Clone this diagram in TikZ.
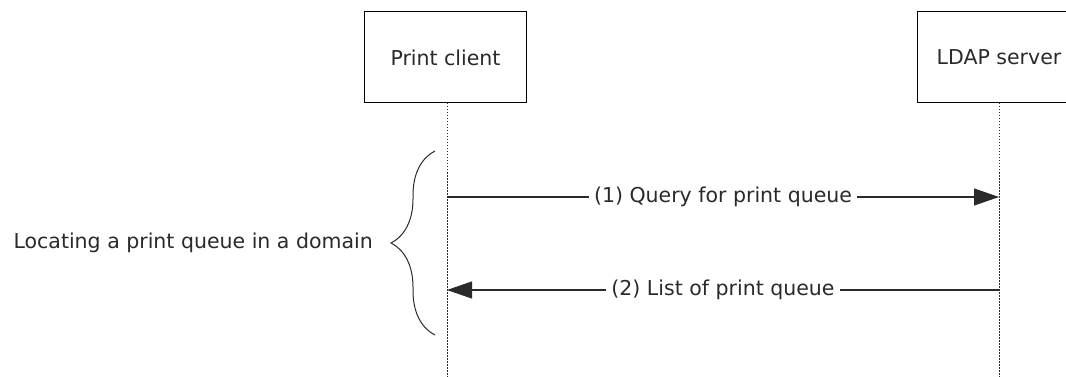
\documentclass[tikz,border=0pt]{standalone}
\usepackage{fontspec}
\setmainfont{DejaVu Sans}
\usetikzlibrary{arrows.meta,decorations.pathreplacing}
\definecolor{ink}{HTML}{2A2A2A}
\tikzset{
  txt/.style={font=\fontsize{20.5}{24}\selectfont, text=ink},
  actor/.style={draw=black, line width=1pt, fill=white, minimum width=162pt, minimum height=91pt, inner sep=0pt, txt},
  lifeline/.style={draw=ink, dash pattern=on 1.5pt off 1.5pt, line width=1pt},
  msg/.style={draw=ink, line width=1.2pt, -{Triangle[length=25pt, width=17pt]}},
  msglabel/.style={fill=white, inner sep=5pt, txt},
}
\begin{document}
\begin{tikzpicture}[x=1pt, y=-1pt]
\useasboundingbox (0,0) rectangle (1066,377);
\node[actor] (pc) at (445.5,57.5) {Print client};
\begin{scope}
\clip (0,0) rectangle (1066,377);
\node[actor, minimum width=164pt] (ldap) at (999,57.5) {LDAP server};
\end{scope}
\coordinate (pcend) at (447,377);
\coordinate (ldend) at (999,377);
\draw[lifeline] (447,103) -- (pcend);
\draw[lifeline] (999,103) -- (ldend);
\coordinate (m1s) at (447,197);
\coordinate (m1e) at (999,197);
\coordinate (m2s) at (999,290);
\coordinate (m2e) at (447,290);
\draw[msg] (m1s) -- node[msglabel] (l1) {(1) Query for print queue} (m1e);
\draw[msg] (m2s) -- node[msglabel] (l2) {(2) List of print queue} (m2e);
\coordinate (bt) at (435,151);
\coordinate (bb) at (435,335);
\draw[draw=ink, line width=1pt, decorate, decoration={brace, amplitude=44pt, aspect=0.5}] (bb) -- (bt);
\node[txt, anchor=east, inner sep=0pt] (lbl) at (373,243) {Locating a print queue in a domain};
\end{tikzpicture}
\end{document}
